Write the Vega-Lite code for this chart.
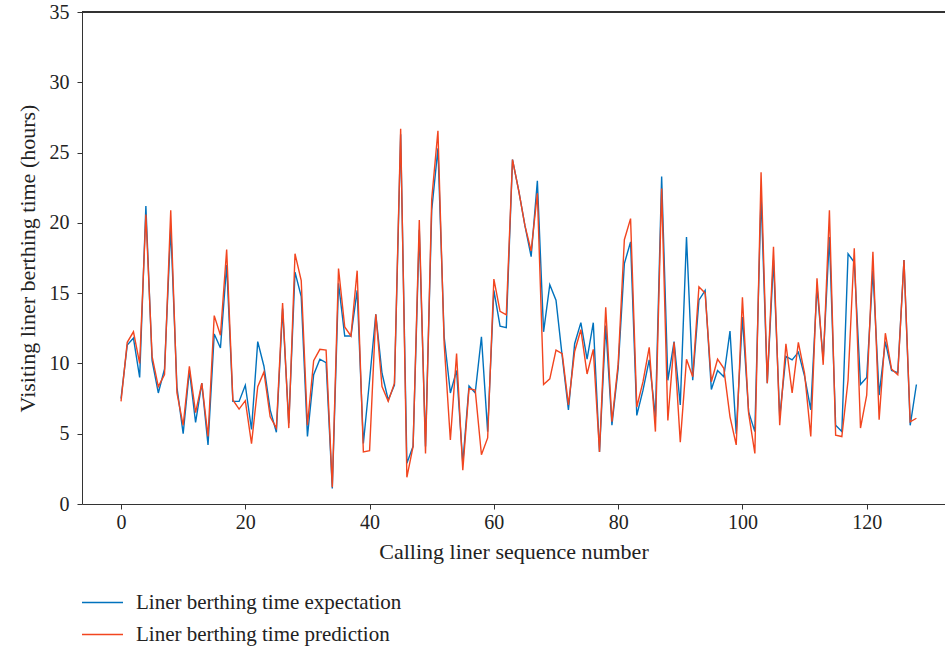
{
  "$schema": "https://vega.github.io/schema/vega-lite/v6.json",
  "width": 863,
  "height": 492,
  "autosize": "none",
  "padding": {"left": 82, "top": 12, "right": 0, "bottom": 144},
  "background": "white",
  "config": {
    "view": {"stroke": null},
    "font": "Liberation Serif",
    "axis": {"domainColor": "#333333", "tickColor": "#333333", "labelColor": "#222222", "titleColor": "#222222", "labelFont": "Liberation Serif", "titleFont": "Liberation Serif", "titleFontWeight": "normal", "grid": false}
  },
  "data": {
    "values": [
      {"i":0,"expectation":7.5,"prediction":7.3},
      {"i":1,"expectation":11.3,"prediction":11.5},
      {"i":2,"expectation":11.8,"prediction":12.25},
      {"i":3,"expectation":9.0,"prediction":10.0},
      {"i":4,"expectation":21.2,"prediction":20.6},
      {"i":5,"expectation":10.2,"prediction":10.5},
      {"i":6,"expectation":7.9,"prediction":8.35},
      {"i":7,"expectation":9.6,"prediction":9.2},
      {"i":8,"expectation":19.7,"prediction":20.9},
      {"i":9,"expectation":8.3,"prediction":7.9},
      {"i":10,"expectation":5.0,"prediction":5.6},
      {"i":11,"expectation":9.5,"prediction":9.8},
      {"i":12,"expectation":5.8,"prediction":6.5},
      {"i":13,"expectation":8.6,"prediction":8.6},
      {"i":14,"expectation":4.2,"prediction":4.8},
      {"i":15,"expectation":12.1,"prediction":13.4},
      {"i":16,"expectation":11.1,"prediction":12.0},
      {"i":17,"expectation":17.0,"prediction":18.1},
      {"i":18,"expectation":7.3,"prediction":7.4},
      {"i":19,"expectation":7.3,"prediction":6.75},
      {"i":20,"expectation":8.45,"prediction":7.35},
      {"i":21,"expectation":5.3,"prediction":4.3},
      {"i":22,"expectation":11.55,"prediction":8.35},
      {"i":23,"expectation":9.8,"prediction":9.4},
      {"i":24,"expectation":6.7,"prediction":6.2},
      {"i":25,"expectation":5.1,"prediction":5.4},
      {"i":26,"expectation":13.9,"prediction":14.3},
      {"i":27,"expectation":5.75,"prediction":5.4},
      {"i":28,"expectation":16.5,"prediction":17.8},
      {"i":29,"expectation":14.75,"prediction":15.9},
      {"i":30,"expectation":4.8,"prediction":5.6},
      {"i":31,"expectation":9.2,"prediction":10.2},
      {"i":32,"expectation":10.3,"prediction":11.0},
      {"i":33,"expectation":10.05,"prediction":10.95},
      {"i":34,"expectation":1.1,"prediction":1.2},
      {"i":35,"expectation":15.7,"prediction":16.75},
      {"i":36,"expectation":11.95,"prediction":12.6},
      {"i":37,"expectation":11.95,"prediction":11.95},
      {"i":38,"expectation":15.2,"prediction":16.6},
      {"i":39,"expectation":4.3,"prediction":3.7},
      {"i":40,"expectation":8.8,"prediction":3.8},
      {"i":41,"expectation":13.5,"prediction":13.5},
      {"i":42,"expectation":9.3,"prediction":8.35},
      {"i":43,"expectation":7.4,"prediction":7.3},
      {"i":44,"expectation":8.45,"prediction":8.6},
      {"i":45,"expectation":26.3,"prediction":26.7},
      {"i":46,"expectation":2.9,"prediction":1.9},
      {"i":47,"expectation":4.1,"prediction":4.1},
      {"i":48,"expectation":19.5,"prediction":20.2},
      {"i":49,"expectation":4.1,"prediction":3.6},
      {"i":50,"expectation":20.9,"prediction":21.7},
      {"i":51,"expectation":25.3,"prediction":26.55},
      {"i":52,"expectation":11.9,"prediction":11.4},
      {"i":53,"expectation":7.9,"prediction":4.55},
      {"i":54,"expectation":9.5,"prediction":10.7},
      {"i":55,"expectation":2.9,"prediction":2.4},
      {"i":56,"expectation":8.4,"prediction":8.2},
      {"i":57,"expectation":7.9,"prediction":8.1},
      {"i":58,"expectation":11.9,"prediction":3.5},
      {"i":59,"expectation":5.15,"prediction":4.7},
      {"i":60,"expectation":15.2,"prediction":16.0},
      {"i":61,"expectation":12.65,"prediction":13.7},
      {"i":62,"expectation":12.55,"prediction":13.45},
      {"i":63,"expectation":24.5,"prediction":24.5},
      {"i":64,"expectation":22.3,"prediction":22.3},
      {"i":65,"expectation":19.8,"prediction":19.8},
      {"i":66,"expectation":17.6,"prediction":18.0},
      {"i":67,"expectation":23.0,"prediction":22.1},
      {"i":68,"expectation":12.25,"prediction":8.5},
      {"i":69,"expectation":15.6,"prediction":8.9},
      {"i":70,"expectation":14.5,"prediction":10.95},
      {"i":71,"expectation":10.5,"prediction":10.7},
      {"i":72,"expectation":6.7,"prediction":7.05},
      {"i":73,"expectation":11.4,"prediction":10.85},
      {"i":74,"expectation":12.9,"prediction":12.4},
      {"i":75,"expectation":10.3,"prediction":9.25},
      {"i":76,"expectation":12.9,"prediction":11.0},
      {"i":77,"expectation":3.7,"prediction":3.7},
      {"i":78,"expectation":12.7,"prediction":14.0},
      {"i":79,"expectation":5.6,"prediction":5.85},
      {"i":80,"expectation":9.65,"prediction":9.95},
      {"i":81,"expectation":17.1,"prediction":18.8},
      {"i":82,"expectation":18.65,"prediction":20.3},
      {"i":83,"expectation":6.3,"prediction":6.9},
      {"i":84,"expectation":8.1,"prediction":8.7},
      {"i":85,"expectation":10.25,"prediction":11.15},
      {"i":86,"expectation":6.2,"prediction":5.15},
      {"i":87,"expectation":23.3,"prediction":22.45},
      {"i":88,"expectation":8.8,"prediction":5.95},
      {"i":89,"expectation":11.55,"prediction":11.5},
      {"i":90,"expectation":7.05,"prediction":4.4},
      {"i":91,"expectation":19.0,"prediction":10.3},
      {"i":92,"expectation":8.8,"prediction":9.05},
      {"i":93,"expectation":14.5,"prediction":15.45},
      {"i":94,"expectation":15.2,"prediction":15.0},
      {"i":95,"expectation":8.15,"prediction":8.7},
      {"i":96,"expectation":9.5,"prediction":10.3},
      {"i":97,"expectation":9.05,"prediction":9.65},
      {"i":98,"expectation":12.3,"prediction":6.2},
      {"i":99,"expectation":5.0,"prediction":4.2},
      {"i":100,"expectation":13.3,"prediction":14.7},
      {"i":101,"expectation":6.55,"prediction":6.45},
      {"i":102,"expectation":5.15,"prediction":3.6},
      {"i":103,"expectation":22.0,"prediction":23.6},
      {"i":104,"expectation":8.6,"prediction":8.6},
      {"i":105,"expectation":17.35,"prediction":18.3},
      {"i":106,"expectation":6.2,"prediction":5.6},
      {"i":107,"expectation":10.5,"prediction":11.4},
      {"i":108,"expectation":10.25,"prediction":7.9},
      {"i":109,"expectation":10.8,"prediction":11.5},
      {"i":110,"expectation":9.1,"prediction":9.3},
      {"i":111,"expectation":6.7,"prediction":4.8},
      {"i":112,"expectation":15.45,"prediction":16.05},
      {"i":113,"expectation":10.25,"prediction":9.9},
      {"i":114,"expectation":19.0,"prediction":20.9},
      {"i":115,"expectation":5.6,"prediction":4.9},
      {"i":116,"expectation":5.15,"prediction":4.8},
      {"i":117,"expectation":17.8,"prediction":8.8},
      {"i":118,"expectation":17.2,"prediction":18.2},
      {"i":119,"expectation":8.5,"prediction":5.4},
      {"i":120,"expectation":9.0,"prediction":7.75},
      {"i":121,"expectation":16.6,"prediction":17.95},
      {"i":122,"expectation":7.75,"prediction":6.0},
      {"i":123,"expectation":11.55,"prediction":12.15},
      {"i":124,"expectation":9.5,"prediction":9.6},
      {"i":125,"expectation":9.35,"prediction":9.2},
      {"i":126,"expectation":17.35,"prediction":17.35},
      {"i":127,"expectation":5.6,"prediction":5.85},
      {"i":128,"expectation":8.5,"prediction":6.1}
    ]
  },
  "transform": [
    {"fold": ["expectation", "prediction"], "as": ["series", "value"]}
  ],
  "layer": [
    {
      "mark": {"type": "rule", "color": "#333333", "strokeWidth": 1},
      "encoding": {"y": {"datum": 35}}
    },
    {
      "mark": {"type": "line", "strokeWidth": 1.4, "clip": true},
      "encoding": {
        "x": {
          "field": "i", "type": "quantitative",
          "scale": {"domain": [-6.28, 132.6], "nice": false, "zero": false},
          "axis": {"values": [0, 20, 40, 60, 80, 100, 120], "title": "Calling liner sequence number", "labelFontSize": 20, "titleFontSize": 22, "tickSize": 5, "labelPadding": 3, "titlePadding": 9, "labelFlush": false}
        },
        "y": {
          "field": "value", "type": "quantitative",
          "scale": {"domain": [0, 35], "nice": false},
          "axis": {"values": [0, 5, 10, 15, 20, 25, 30, 35], "title": "Visiting liner berthing time (hours)", "labelFontSize": 20, "titleFontSize": 22, "tickSize": 5, "labelPadding": 8, "titlePadding": 10, "labelFlush": false}
        },
        "color": {
          "field": "series", "type": "nominal",
          "scale": {"domain": ["expectation", "prediction"], "range": ["#0072BD", "#F2451F"]},
          "legend": {
            "orient": "none", "legendX": -1, "legendY": 569, "title": null,
            "direction": "vertical",
            "symbolType": "stroke", "symbolSize": 1681, "symbolStrokeWidth": 1.4,
            "labelFont": "Liberation Serif", "labelFontSize": 21, "labelColor": "#222222",
            "labelOffset": 12, "rowPadding": -11, "labelLimit": 0,
            "labelExpr": "datum.label == 'expectation' ? 'Liner berthing time expectation' : 'Liner berthing time prediction'"
          }
        },
        "order": {"field": "i", "type": "quantitative"}
      }
    }
  ]
}
